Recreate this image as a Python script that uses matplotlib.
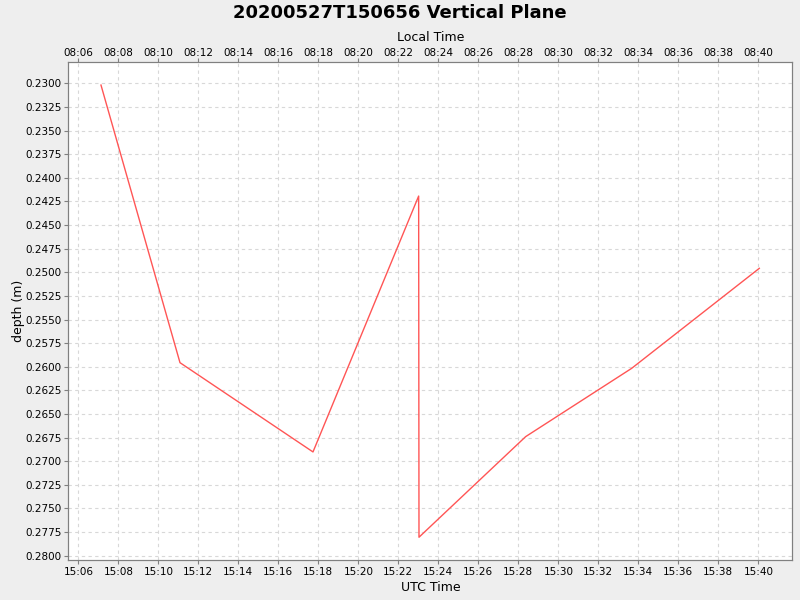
import matplotlib
matplotlib.use("Agg")
import matplotlib.pyplot as plt
import matplotlib.dates as mdates
from datetime import datetime, timedelta

# Data (UTC times and depths)
utc_times = ["15:07:08", "15:11:05", "15:17:44", "15:23:01", "15:23:02",
             "15:28:22", "15:33:40", "15:40:03"]
depths = [0.23018, 0.25957, 0.26902, 0.24193, 0.27805, 0.26740, 0.26017, 0.24958]
y_ticks = [0.2300 + 0.0025 * i for i in range(21)]
local_offset_hours = -7

day = "2020-05-27 "
t = [datetime.strptime(day + s, "%Y-%m-%d %H:%M:%S") for s in utc_times]

fig = plt.figure(figsize=(8, 6), dpi=100, facecolor="#EEEEEE")
ax = fig.add_axes([0.0854, 0.0662, 0.9050, 0.8298])
ax.set_facecolor("white")

ax.plot(t, depths, color="#FF5555", lw=1.0)

xmin = datetime.strptime(day + "15:05:30", "%Y-%m-%d %H:%M:%S")
xmax = datetime.strptime(day + "15:41:42", "%Y-%m-%d %H:%M:%S")
ax.set_xlim(xmin, xmax)
ax.set_ylim(0.28049, 0.22778)

ax.xaxis.set_major_locator(mdates.MinuteLocator(byminute=range(0, 60, 2)))
ax.xaxis.set_major_formatter(mdates.DateFormatter("%H:%M"))
ax.set_yticks(y_ticks)
ax.set_yticklabels([f"{v:.4f}" for v in y_ticks])

grid_kw = dict(color="#D8D8D8", linestyle=(0, (3, 3)), linewidth=0.8)
ax.grid(True, **grid_kw)

for sp in ax.spines.values():
    sp.set_color("#808080")
ax.tick_params(axis="both", colors="#808080", labelcolor="black", labelsize=7.5,
               length=3, width=0.8, direction="out", pad=2)

ax.set_xlabel("UTC Time", fontsize=9, labelpad=3)
ax.set_ylabel("depth (m)", fontsize=9, labelpad=0)

# Top axis (local time)
ax2 = ax.twiny()
off = timedelta(hours=local_offset_hours)
ax2.set_xlim(xmin + off, xmax + off)
ax2.xaxis.set_major_locator(mdates.MinuteLocator(byminute=range(0, 60, 2)))
ax2.xaxis.set_major_formatter(mdates.DateFormatter("%H:%M"))
ax2.tick_params(axis="x", colors="#808080", labelcolor="black", labelsize=7.5,
                length=3, width=0.8, direction="out", pad=0)
for sp in ax2.spines.values():
    sp.set_color("#808080")
ax2.set_xlabel("Local Time", fontsize=9, labelpad=5)

fig.suptitle("20200527T150656 Vertical Plane", fontsize=13, fontweight="bold", y=0.993)

fig.savefig("out.png", dpi=100, facecolor=fig.get_facecolor())
